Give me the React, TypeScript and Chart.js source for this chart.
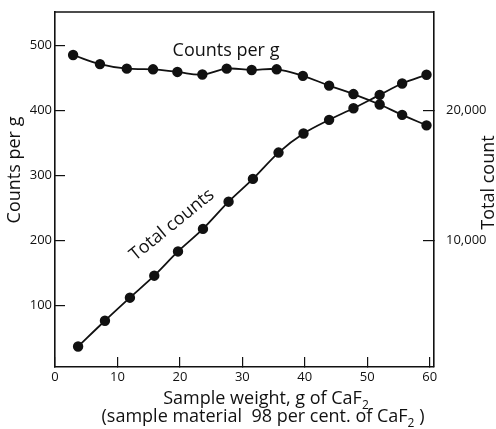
import React, { useEffect, useRef } from "react";
import { Chart, registerables } from "chart.js";

Chart.register(...registerables);

// Sample weight (g of CaF2) for the "Counts per g" series
const weightsPerG = [2.9, 7.2, 11.5, 15.7, 19.6, 23.6, 27.5, 31.5, 35.5, 39.7, 43.9, 47.8, 52.0, 55.6, 59.5];
const countsPerG = [485, 471, 464, 463, 459, 455, 464, 462, 463, 453, 438, 425, 409, 393, 377];
// Sample weight for the "Total counts" series
const weightsTotal = [3.7, 8.0, 12.0, 15.9, 19.7, 23.7, 27.8, 31.7, 35.8, 39.8, 43.9, 47.8, 52.0, 55.6, 59.5];
const totalCounts = [1875, 3850, 5620, 7310, 9170, 10900, 12990, 14740, 16760, 18220, 19270, 20160, 21190, 22060, 22730];

const xTicks = [0, 10, 20, 30, 40, 50, 60];
const leftTicks = [100, 200, 300, 400, 500];
const rightTicks = [10000, 20000];

const FAMILY = "'Open Sans', 'DejaVu Sans', sans-serif";
const INK = "#111";

type Part = { t: string; sub?: boolean };

function drawRich(ctx: CanvasRenderingContext2D, parts: Part[], cx: number, y: number, size: number) {
  let total = 0;
  const widths = parts.map((p) => {
    ctx.font = `${p.sub ? Math.round(size * 0.65) : size}px ${FAMILY}`;
    const w = ctx.measureText(p.t).width;
    total += w;
    return w;
  });
  let x = cx - total / 2;
  ctx.textAlign = "left";
  ctx.textBaseline = "alphabetic";
  parts.forEach((p, i) => {
    ctx.font = `${p.sub ? Math.round(size * 0.65) : size}px ${FAMILY}`;
    ctx.fillText(p.t, x, p.sub ? y + size * 0.28 : y);
    x += widths[i];
  });
}

const textPlugin = {
  id: "annotTexts",
  afterDraw(chart: any) {
    const { ctx, chartArea: a } = chart;
    ctx.save();
    // top frame line
    ctx.strokeStyle = INK;
    ctx.lineWidth = 1.6;
    ctx.beginPath();
    ctx.moveTo(a.left, a.top);
    ctx.lineTo(a.right, a.top);
    ctx.stroke();

    ctx.fillStyle = INK;
    const size = 18;
    ctx.font = `${size}px ${FAMILY}`;

    // in-plot label: Counts per g
    ctx.textAlign = "center";
    ctx.textBaseline = "alphabetic";
    ctx.fillText("Counts per g", 226, 55.5);

    // in-plot label: Total counts (rotated along the line)
    ctx.save();
    ctx.translate(172, 225);
    ctx.rotate((-39 * Math.PI) / 180);
    ctx.textBaseline = "middle";
    ctx.fillText("Total counts", 0, 0);
    ctx.restore();

    // left axis title
    ctx.save();
    ctx.translate(20, 170);
    ctx.rotate(-Math.PI / 2);
    ctx.textAlign = "center";
    ctx.textBaseline = "alphabetic";
    ctx.fillText("Counts per g", 0, 0);
    ctx.restore();

    // right axis title (clipped by the edge)
    ctx.save();
    ctx.translate(494, 182.5);
    ctx.rotate(-Math.PI / 2);
    ctx.textAlign = "center";
    ctx.textBaseline = "alphabetic";
    ctx.fillText("Total count", 0, 0);
    ctx.restore();

    // bottom titles
    drawRich(ctx, [{ t: "Sample weight, g of CaF" }, { t: "2", sub: true }], 266, 404, 18);
    drawRich(
      ctx,
      [{ t: "(sample material  98 per cent. of CaF" }, { t: "2", sub: true }, { t: " )" }],
      263,
      422,
      18
    );
    ctx.restore();
  },
};

export default function App() {
  const ref = useRef<HTMLCanvasElement | null>(null);

  useEffect(() => {
    document.body.style.margin = "0";
    document.body.style.overflow = "hidden";
    const canvas = ref.current;
    if (!canvas) return;

    const tickFont = { family: FAMILY, size: 13 };

    const chart = new Chart(canvas, {
      type: "line",
      data: {
        datasets: [
          {
            label: "Counts per g",
            data: weightsPerG.map((x, i) => ({ x, y: countsPerG[i] })),
            yAxisID: "y",
            borderColor: INK,
            backgroundColor: INK,
            borderWidth: 1.8,
            pointRadius: 4.3,
            pointBackgroundColor: INK,
            pointBorderColor: INK,
            tension: 0.4,
            fill: false,
          },
          {
            label: "Total counts",
            data: weightsTotal.map((x, i) => ({ x, y: totalCounts[i] })),
            yAxisID: "y1",
            borderColor: INK,
            backgroundColor: INK,
            borderWidth: 1.8,
            pointRadius: 4.3,
            pointBackgroundColor: INK,
            pointBorderColor: INK,
            tension: 0.3,
            fill: false,
          },
        ],
      },
      options: {
        responsive: false,
        animation: false,
        locale: "en-US",
        layout: { padding: { top: 12, left: 0, right: 0, bottom: 0 } },
        plugins: {
          legend: { display: false },
          tooltip: { enabled: false },
          title: { display: false },
        },
        scales: {
          x: {
            type: "linear",
            position: "bottom",
            min: 0,
            max: 60.7,
            afterBuildTicks: (s: any) => {
              s.ticks = xTicks.map((v) => ({ value: v }));
            },
            afterFit: (s: any) => {
              s.height = 62;
              s.paddingLeft = 0;
              s.paddingRight = 0;
            },
            ticks: { font: tickFont, color: INK, padding: 12, maxRotation: 0 },
            grid: { drawOnChartArea: false, drawTicks: true, tickLength: -10, color: INK, lineWidth: 1.2 },
            border: { display: true, color: INK, width: 1.6 },
          },
          y: {
            type: "linear",
            position: "left",
            min: 6,
            max: 551,
            afterBuildTicks: (s: any) => {
              s.ticks = leftTicks.map((v) => ({ value: v }));
            },
            afterFit: (s: any) => {
              s.width = 55;
              s.paddingTop = 0;
              s.paddingBottom = 0;
            },
            ticks: { font: tickFont, color: INK, padding: 13 },
            grid: { drawOnChartArea: false, drawTicks: true, tickLength: -10, color: INK, lineWidth: 1.2 },
            border: { display: true, color: INK, width: 1.6 },
          },
          y1: {
            type: "linear",
            position: "right",
            min: 300,
            max: 27550,
            afterBuildTicks: (s: any) => {
              s.ticks = rightTicks.map((v) => ({ value: v }));
            },
            afterFit: (s: any) => {
              s.width = 62;
              s.paddingTop = 0;
              s.paddingBottom = 0;
            },
            ticks: { font: tickFont, color: INK, padding: 23 },
            grid: { drawOnChartArea: false, drawTicks: true, tickLength: -11, color: INK, lineWidth: 1.2 },
            border: { display: true, color: INK, width: 1.6 },
          },
        },
      },
      plugins: [textPlugin],
    } as any);

    return () => chart.destroy();
  }, []);

  return (
    <div style={{ width: 496, height: 429, background: "#fff" }}>
      <canvas ref={ref} width={496} height={429} style={{ display: "block" }} />
    </div>
  );
}
